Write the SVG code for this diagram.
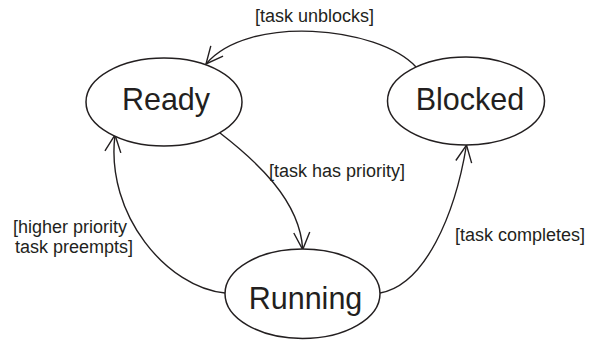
<svg xmlns="http://www.w3.org/2000/svg" width="589" height="343" viewBox="0 0 589 343">
<defs>
<style>
.node ellipse{fill:#fff;stroke:#231f20;stroke-width:1.5}
.node text{font-family:"Liberation Sans",Arial,sans-serif;font-size:30.5px;fill:#231f20;text-anchor:middle}
.edge{fill:none;stroke:#231f20;stroke-width:1.4;marker-end:url(#arr)}
.lbl{font-family:"Liberation Sans",Arial,sans-serif;font-size:18px;fill:#231f20}
</style>
<marker id="arr" markerUnits="userSpaceOnUse" markerWidth="20" markerHeight="18" refX="17" refY="8" orient="auto" overflow="visible">
<path d="M0,0 L17,8 L0,16" fill="none" stroke="#231f20" stroke-width="1.4"/>
</marker>
</defs>
<rect width="589" height="343" fill="#fff"/>
<g id="connectors">
<path class="edge" d="M416,67 C378,26 248,14 206,64"/>
<path class="edge" d="M220,133 C255,160 300,200 302.7,249.5"/>
<path class="edge" d="M225,293 C168,288 105,215 115,135"/>
<path class="edge" d="M380,293 C425,285 455,215 466.5,145"/>
<text class="lbl" x="255" y="21.7">[task unblocks]</text>
<text class="lbl" x="269" y="176.5">[task has priority]</text>
<text class="lbl" x="455" y="240.7">[task completes]</text>
<text class="lbl" x="13" y="232.5">[higher priority</text>
<text class="lbl" x="15" y="253.3">task preempts]</text>
</g>
<g id="ready" class="node">
<ellipse cx="164" cy="102" rx="78" ry="44"/>
<text x="166" y="110">Ready</text>
</g>
<g id="blocked" class="node">
<ellipse cx="466" cy="101" rx="78.5" ry="44"/>
<text x="470" y="110">Blocked</text>
</g>
<g id="running" class="node">
<ellipse cx="302.5" cy="293.7" rx="77.5" ry="44.7"/>
<text x="305.5" y="309">Running</text>
</g>
</svg>
